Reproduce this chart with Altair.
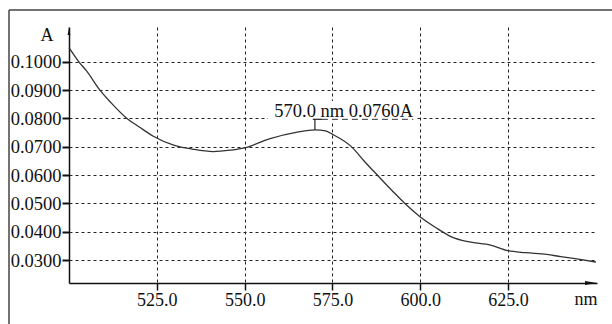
import altair as alt
import pandas as pd

wavelength = [500, 502.8, 505, 508.8, 512, 516.5, 520, 524, 530, 535, 541, 546, 550,
              557, 565, 570, 573, 575, 580.6, 584, 588, 592, 596, 600, 605, 609, 614,
              620, 625, 630, 636, 640, 645, 650]
absorbance = [0.1050, 0.1000, 0.0968, 0.0900, 0.0855, 0.0800, 0.0770, 0.0737, 0.0705,
              0.0692, 0.0683, 0.0688, 0.0696, 0.0728, 0.0752, 0.0760, 0.0756, 0.0744,
              0.0698, 0.0650, 0.0597, 0.0545, 0.0495, 0.0452, 0.0410, 0.0381, 0.0364,
              0.0353, 0.0333, 0.0326, 0.0320, 0.0312, 0.0303, 0.0293]
x_ticks = [525, 550, 575, 600, 625]
y_ticks = [0.03, 0.04, 0.05, 0.06, 0.07, 0.08, 0.09, 0.10]
peak_nm = [570.0]
peak_a = [0.0760]
peak_label = ["570.0 nm 0.0760A"]

FONT = "Liberation Serif"
W, H = 528, 256
XDOM = [500, 650.3]
YDOM = [0.0219, 0.1123]

df = pd.DataFrame({"nm": wavelength, "A": absorbance})
pk = pd.DataFrame({"nm": peak_nm, "A": peak_a, "label": peak_label})
pk["bar"] = 0.0797
pk["bar_l"] = pk["nm"] - 0.6
pk["bar_r"] = pk["nm"] + 2.0
pk["lead_r"] = 598.0
pk["box_l"] = 556.6
pk["box_r"] = 598.8
pk["box_b"] = 0.0790
pk["box_t"] = 0.0862
pk["text_x"] = 578.2
pk["text_y"] = 0.0806

xs = alt.Scale(domain=XDOM, nice=False, zero=False)
ys = alt.Scale(domain=YDOM, nice=False, zero=False)

x_axis = alt.Axis(values=x_ticks, format=".1f", title=None, grid=True, tickCount=20,
                  gridDash=[3, 3], gridColor="#222", gridWidth=1,
                  domainColor="#111", domainWidth=1.5, tickColor="#111",
                  tickWidth=1.5, tickSize=7, labelFont=FONT, labelFontSize=18,
                  labelColor="#111", labelPadding=1, labelOverlap=False,
                  labelFlush=False)
y_axis = alt.Axis(values=y_ticks, format=".4f", title=None, grid=True, tickCount=20,
                  gridDash=[3, 3], gridColor="#222", gridWidth=1,
                  domainColor="#111", domainWidth=1.5, tickColor="#111",
                  tickWidth=2, tickSize=7, labelFont=FONT, labelFontSize=18.5,
                  labelColor="#111", labelPadding=1, labelOverlap=False,
                  labelFlush=False)

base = alt.Chart(df)
line = base.mark_line(color="#333", strokeWidth=1.3, interpolate="monotone").encode(
    x=alt.X("nm:Q", scale=xs, axis=x_axis),
    y=alt.Y("A:Q", scale=ys, axis=y_axis),
)

pkc = alt.Chart(pk)
box = pkc.mark_rect(color="white").encode(
    x=alt.X("box_l:Q", scale=xs, title=None), x2="box_r:Q",
    y=alt.Y("box_b:Q", scale=ys, title=None), y2="box_t:Q")
stem = pkc.mark_rule(color="#222", strokeWidth=1.2).encode(
    x=alt.X("nm:Q", scale=xs, title=None), y=alt.Y("A:Q", scale=ys, title=None),
    y2="bar:Q")
bar = pkc.mark_rule(color="#222", strokeWidth=1.2).encode(
    x=alt.X("bar_l:Q", scale=xs, title=None), x2="bar_r:Q",
    y=alt.Y("bar:Q", scale=ys, title=None))
lead = pkc.mark_rule(color="#333", strokeWidth=1, strokeDash=[6, 4]).encode(
    x=alt.X("bar_r:Q", scale=xs, title=None), x2="lead_r:Q",
    y=alt.Y("bar:Q", scale=ys, title=None))
txt = pkc.mark_text(font=FONT, fontSize=18.5, color="#111", align="center",
                    baseline="alphabetic").encode(
    x=alt.X("text_x:Q", scale=xs, title=None),
    y=alt.Y("text_y:Q", scale=ys, title=None),
    text="label:N")

one = alt.Chart(pd.DataFrame({"k": [0]}))
frame_left = one.mark_rule(color="#444", strokeWidth=1.5).encode(
    x=alt.value(-60), y=alt.value(-17), y2=alt.value(300))
frame_top = one.mark_rule(color="#444", strokeWidth=1.5).encode(
    x=alt.value(-60), x2=alt.value(546), y=alt.value(-17))
y_arrow = one.mark_point(shape="M0,-1L0.35,1L-0.35,1Z", filled=True, color="#111",
                         size=64, opacity=1).encode(x=alt.value(0), y=alt.value(4))
x_arrow = one.mark_point(shape="M1,0L-1,-0.35L-1,0.35Z", filled=True, color="#111",
                         size=144, opacity=1).encode(x=alt.value(522), y=alt.value(H))
a_title = one.mark_text(text="A", font=FONT, fontSize=18, color="#111",
                        align="center", baseline="middle").encode(
    x=alt.value(-22), y=alt.value(9))
nm_title = one.mark_text(text="nm", font=FONT, fontSize=18, color="#111",
                         align="center", baseline="middle").encode(
    x=alt.value(517), y=alt.value(H + 17))

chart = alt.layer(
    line, box, lead, stem, bar, txt,
    frame_left, frame_top, y_arrow, x_arrow, a_title, nm_title
).properties(
    width=W, height=H,
    autosize=alt.AutoSizeParams(type="none"),
    padding={"left": 69, "top": 27, "right": 15, "bottom": 41},
    background="white",
).configure_view(stroke=None)

chart.save("out.html", embed_options={"renderer": "svg", "actions": False})
